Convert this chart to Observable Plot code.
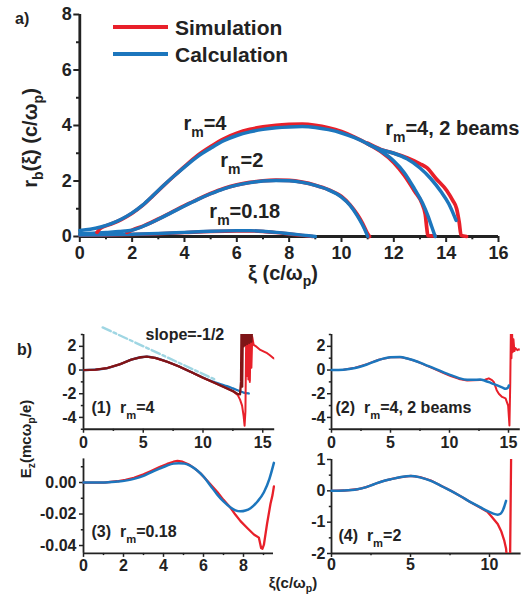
<!DOCTYPE html>
<html><head><meta charset="utf-8">
<script src="https://cdn.jsdelivr.net/npm/d3@7"></script>
<script src="https://cdn.jsdelivr.net/npm/@observablehq/plot@0.6"></script>
<style>
body{margin:0;background:#fff;}
#fig{position:relative;width:530px;height:595px;font-family:"Liberation Sans",Arial,Helvetica,sans-serif;font-weight:bold;color:#222;overflow:hidden;}
#fig svg{position:absolute;overflow:visible;}
#fig svg text{white-space:pre;}
.lab{position:absolute;white-space:nowrap;line-height:1;}
.lab sub{font-size:70%;vertical-align:-0.4em;line-height:0;}
.sw{position:absolute;height:3.5px;}
</style></head><body><div id="fig"></div>
<script>
const FONT='"Liberation Sans", Arial, Helvetica, sans-serif';
const RED="#e8202a", BLUE="#1c76bd", DARKRED="#7e1517", LIGHTBLUE="#9fd6e3";

// ---------- Panel a: r_b(xi) ----------
const aXTicks=[0,2,4,6,8,10,12,14,16], aXMinor=[1,3,5,7,9,11,13,15];
const aYTicks=[0,2,4,6,8], aYMinor=[1,3,5,7];
const aCalcRm4=[[0,0.22],[0.4,0.26],[0.8,0.34],[1.2,0.46],[1.6,0.63],[2,0.85],[2.4,1.13],[2.8,1.48],[3.2,1.84],[3.6,2.18],[4,2.5],[4.5,2.88],[5,3.18],[5.5,3.45],[6,3.64],[6.5,3.77],[7,3.86],[7.5,3.92],[8,3.95],[8.5,3.96],[9,3.93],[9.5,3.85],[10,3.73],[10.5,3.56],[11,3.34],[11.5,3.08],[12,2.72],[12.4,2.3],[12.8,1.7],[13.1,1.2],[13.3,0.75],[13.45,0.35],[13.58,0]];
const aSimRm4=[[0.66,0.15],[0.8,0.3],[1.2,0.45],[1.6,0.62],[2,0.84],[2.4,1.12],[2.8,1.47],[3.2,1.83],[3.6,2.18],[4,2.52],[4.5,2.92],[5,3.24],[5.5,3.52],[6,3.72],[6.5,3.86],[7,3.95],[7.5,4.01],[8,4.04],[8.5,4.05],[9,4.01],[9.5,3.92],[10,3.78],[10.5,3.58],[11,3.34],[11.5,3.06],[12,2.66],[12.4,2.2],[12.8,1.62],[13.07,1.2],[13.2,0.8],[13.26,0.3],[13.3,0.03],[13.58,0.02]];
const aCalc2b=[[11,3.34],[11.5,3.13],[12,3.0],[12.5,2.8],[13,2.47],[13.4,2.1],[13.8,1.62],[14.1,1.18],[14.38,0.58]];
const aSim2b=[[11,3.36],[11.5,3.14],[12,3.0],[12.5,2.84],[13,2.62],[13.26,2.48],[13.6,2.1],[14.02,1.66],[14.25,1.3],[14.4,1.0],[14.5,0.5],[14.57,0.04],[14.78,0]];
const aCalcRm2=[[0,0.1],[0.5,0.12],[1,0.15],[1.5,0.18],[2,0.23],[2.5,0.4],[3,0.62],[3.5,0.86],[4,1.1],[4.5,1.33],[5,1.54],[5.5,1.72],[6,1.85],[6.5,1.94],[7,2.0],[7.5,2.02],[8,2.01],[8.5,1.95],[9,1.84],[9.5,1.68],[10,1.42],[10.33,1.12],[10.6,0.75],[10.8,0.42],[10.95,0.12],[11.0,0]];
const aSimRm2=[[1.8,0.15],[2,0.23],[2.5,0.41],[3,0.63],[3.5,0.87],[4,1.11],[4.5,1.34],[5,1.55],[5.5,1.73],[6,1.86],[6.5,1.95],[7,2.01],[7.5,2.03],[8,2.02],[8.5,1.96],[9,1.85],[9.5,1.69],[10,1.44],[10.33,1.14],[10.6,0.8],[10.8,0.48],[10.97,0.15],[11.07,0]];
const aCalcRm018=[[0,0.05],[1,0.06],[2,0.08],[3,0.11],[4,0.15],[5,0.19],[6,0.21],[6.5,0.21],[7,0.19],[7.5,0.15],[8,0.1],[8.5,0.05],[9,0]];
const aSimRm018=[[0,0.04],[1,0.05],[2,0.07],[3,0.1],[4,0.14],[5,0.18],[6,0.2],[6.5,0.2],[7,0.18],[7.5,0.14],[8,0.09],[8.5,0.04],[8.9,0]];

// ---------- Panel b(1): r_m=4 ----------
const b1XTicks=[0,5,10,15], b1XMinor=[2.5,7.5,12.5];
const b1YTicks=[-4,-2,0,2], b1YMinor=[-5,-3,-1,1,3];
const b1Slope=[[1.6,3.6],[11,-0.8]];
const b1Calc=[[0,0],[1,0.03],[2,0.17],[3,0.47],[4,0.88],[4.8,1.08],[5.3,1.13],[6,1.02],[7,0.7],[8,0.3],[9,-0.17],[10,-0.63],[10.5,-0.84],[11,-1.03],[11.5,-1.2],[12,-1.36],[12.5,-1.55],[13,-1.75],[13.4,-1.9],[13.83,-1.98]];
const b1SimB=[[0,0],[1,0.03],[2,0.17],[3,0.47],[4,0.88],[4.8,1.08],[5.3,1.13],[6,1.02],[7,0.7],[8,0.3],[9,-0.17],[10,-0.65],[11,-1.1],[12,-1.55],[12.5,-1.78],[12.9,-2.1],[13.1,-2.5],[13.27,-3.0],[13.4,-3.9],[13.48,-4.7],[13.55,-3.5],[13.62,3.3],[13.68,-0.5],[13.74,3.3],[13.8,-0.8],[13.86,2.6],[13.92,-1.0],[13.98,3.0],[14.05,0.2],[14.12,2.8],[14.24,2.13],[14.5,1.95],[14.8,1.7],[15.1,1.55],[15.37,1.42],[15.6,1.25],[15.9,1.0],[16,0.95]];
const b1SimA=[[0,0],[1,0.03],[2,0.17],[3,0.47],[4,0.88],[4.8,1.08],[5.3,1.13],[6,1.02],[7,0.7],[8,0.3],[9,-0.17],[10,-0.65],[11,-1.1],[12,-1.55],[12.5,-1.78],[12.9,-2.02],[13.1,-2.05],[13.18,-1.0],[13.22,3.3],[13.28,-1.4],[13.33,3.3],[13.4,2.0],[13.45,3.3],[13.52,2.1],[13.6,3.3],[13.7,2.2],[13.78,3.3],[13.88,2.3],[13.95,3.3],[14.05,2.4],[14.1,3.3]];

// ---------- Panel b(2): r_m=4, 2 beams ----------
const b2XTicks=[0,5,10,15], b2XMinor=[2.5,7.5,12.5];
const b2YTicks=[-4,-2,0,2], b2YMinor=[-5,-3,-1,1,3];
const b2Calc=[[0,0],[1,0.03],[2,0.17],[3,0.47],[4,0.85],[5,1.08],[5.8,1.1],[6.5,0.95],[7.3,0.7],[8,0.42],[8.7,0.14],[9.5,-0.2],[10.1,-0.43],[10.8,-0.68],[11.5,-0.82],[12,-0.83],[12.6,-0.8],[13,-0.9],[13.5,-1.08],[14,-1.28],[14.5,-1.48],[14.75,-1.58],[14.95,-1.5],[15.03,-1.3]];
const b2Sim=[[0,0],[1,0.03],[2,0.2],[3,0.5],[4,0.87],[5,1.08],[5.8,1.1],[6.5,0.95],[7.3,0.7],[8,0.4],[8.7,0.1],[9.5,-0.25],[10.1,-0.5],[10.8,-0.75],[11.5,-0.88],[12,-0.86],[12.6,-0.85],[13,-0.82],[13.33,-0.7],[13.6,-0.85],[13.75,-1.0],[14.0,-1.7],[14.18,-2.0],[14.46,-2.27],[14.75,-2.4],[14.97,-3.0],[15.08,-4.68],[15.15,-1.0],[15.2,3.3],[15.25,1.0],[15.3,3.3],[15.35,1.5],[15.42,2.6],[15.5,1.6],[15.59,1.85],[15.75,1.68],[15.87,1.75],[16,1.7]];

// ---------- Panel b(3): r_m=0.18 ----------
const b3XTicks=[0,2,4,6,8], b3XMinor=[1,3,5,7,9];
const b3YTicks=[-0.04,-0.02,0], b3YMinor=[-0.03,-0.01,0.01];
const b3Calc=[[0,0],[1,0],[1.68,0.0006],[2.1,0.0012],[2.52,0.0023],[3,0.0042],[3.35,0.0063],[3.8,0.0088],[4.18,0.0108],[4.5,0.012],[4.77,0.0123],[5.05,0.012],[5.35,0.0106],[5.7,0.0075],[6.02,0.0035],[6.35,-0.002],[6.68,-0.0075],[7,-0.012],[7.35,-0.0158],[7.6,-0.0177],[7.85,-0.0183],[8.1,-0.0178],[8.35,-0.0163],[8.7,-0.012],[9.02,-0.0062],[9.3,0.0025],[9.52,0.0125]];
const b3Sim=[[0,0],[1,0],[1.68,0.0008],[2.1,0.0017],[2.52,0.003],[3,0.0052],[3.35,0.0072],[3.8,0.0098],[4.18,0.0118],[4.5,0.0132],[4.7,0.0137],[4.95,0.0132],[5.3,0.0112],[5.6,0.0085],[5.85,0.0058],[6.2,0.001],[6.68,-0.0058],[7,-0.011],[7.35,-0.016],[7.6,-0.0205],[7.85,-0.0245],[8.2,-0.029],[8.52,-0.033],[8.77,-0.035],[8.83,-0.0385],[8.88,-0.0415],[8.95,-0.042],[9.02,-0.0395],[9.18,-0.026],[9.35,-0.0135],[9.45,-0.008],[9.52,-0.0025]];

// ---------- Panel b(4): r_m=2 ----------
const b4XTicks=[0,5,10], b4XMinor=[2.5,7.5];
const b4YTicks=[-2,-1,0,1], b4YMinor=[-1.5,-0.5,0.5];
const b4Calc=[[0,0],[0.8,0.01],[1.63,0.05],[2.2,0.12],[2.69,0.21],[3.2,0.3],[3.75,0.37],[4.4,0.44],[5.02,0.47],[5.6,0.43],[6.29,0.32],[6.9,0.17],[7.56,0],[8.2,-0.18],[8.83,-0.37],[9.4,-0.52],[9.89,-0.65],[10.2,-0.72],[10.52,-0.76],[10.7,-0.73],[10.84,-0.63],[10.95,-0.48],[11.05,-0.32]];
const b4Sim=[[0,0],[0.8,0.01],[1.63,0.05],[2.2,0.12],[2.69,0.21],[3.2,0.3],[3.75,0.37],[4.4,0.44],[5.02,0.48],[5.6,0.44],[6.29,0.33],[6.9,0.17],[7.56,0],[8.2,-0.18],[8.83,-0.37],[9.4,-0.53],[9.89,-0.68],[10.1,-0.8],[10.52,-1.06],[10.75,-1.3],[10.94,-1.6],[11.05,-1.85],[11.12,-2.3],[11.3,-2.3],[11.37,1.2]];

// ---------- helpers ----------
const fig=document.getElementById("fig");
const rows=a=>a.map(([x,y])=>({x,y}));
const intFmt=d=>String(d);
function axes(xt,xm,yt,ym,o){
  return [
    Plot.axisX({ticks:xt,tickSize:o.tl,tickPadding:o.px,strokeWidth:o.sw,label:null,tickFormat:o.fx||intFmt}),
    Plot.axisX({ticks:xm,tickSize:o.tl*0.55,strokeWidth:o.sw,label:null,tickFormat:()=>""}),
    Plot.axisY({ticks:yt,tickSize:o.tl,tickPadding:o.py,strokeWidth:o.sw,label:null,tickFormat:o.fy||intFmt}),
    Plot.axisY({ticks:ym,tickSize:o.tl*0.55,strokeWidth:o.sw,label:null,tickFormat:()=>""}),
    Plot.ruleY([o.y0],{strokeWidth:o.aw}),
    Plot.ruleX([o.x0],{strokeWidth:o.aw})
  ];
}
function ln(a,stroke,w,extra){return Plot.line(rows(a),{x:"x",y:"y",stroke,strokeWidth:w,curve:"monotone-x",...(extra||{})});}
function subify(root){
  root.querySelectorAll("text").forEach(t=>{
    if(t.children.length) return;
    const s=t.textContent; if(!s.includes("_{")) return;
    t.textContent="";
    const parts=s.split(/_\{([^}]*)\}/);
    let pending=false;
    parts.forEach((p,i)=>{
      if(!p) return;
      const ts=document.createElementNS("http://www.w3.org/2000/svg","tspan");
      ts.textContent=p;
      if(i%2===1){ts.setAttribute("font-size","70%");ts.setAttribute("dy","0.5em");pending=true;}
      else if(pending){ts.setAttribute("dy","-0.35em");pending=false;}
      t.appendChild(ts);
    });
  });
}
function place(svg,left,top){svg.style.left=left+"px";svg.style.top=top+"px";fig.appendChild(svg);subify(svg);}
function lab(html,x,cy,size,opt={}){
  const d=document.createElement("div");d.className="lab";d.innerHTML=html;
  d.style.fontSize=size+"px";
  if(opt.rot){d.style.left=x+"px";d.style.top=cy+"px";d.style.transform="translate(-50%,-50%) rotate(-90deg)";}
  else{d.style.left=x+"px";d.style.top=(cy-0.49*size)+"px";if(opt.mid)d.style.transform="translateX(-50%)";}
  fig.appendChild(d);
}
const baseStyle=(fs)=>({background:"transparent",fontFamily:FONT,fontSize:fs+"px",fontWeight:"bold",color:"#222",overflow:"visible"});

// ---------- Panel a ----------
const pa=Plot.plot({
  width:530,height:290,marginLeft:79.3,marginRight:32,marginTop:14,marginBottom:54,
  x:{domain:[0,16]},y:{domain:[0,8]},style:baseStyle(18),
  marks:[
    ...axes(aXTicks,aXMinor,aYTicks,aYMinor,{tl:6,px:4,py:2,sw:2,aw:2.8,x0:0,y0:0}),
    ln(aSimRm018,RED,3.4), ln(aCalcRm018,BLUE,3.4),
    ln(aSimRm2,RED,3.7), ln(aCalcRm2,BLUE,3.4),
    ln(aSimRm4,RED,3.7), ln(aSim2b,RED,3.7),
    ln(aCalcRm4,BLUE,3.5), ln(aCalc2b,BLUE,3.5),
    Plot.text([{x:3.96,y:4.07,t:"r_{m}=4"},{x:5.37,y:2.74,t:"r_{m}=2"},{x:4.95,y:0.9,t:"r_{m}=0.18"},{x:11.67,y:3.89,t:"r_{m}=4, 2 beams"}],
      {x:"x",y:"y",text:"t",textAnchor:"start",fontSize:20,fontWeight:"bold",fill:"#222"})
  ]
});
place(pa,0,0);

// legend
[["Simulation",RED,27],["Calculation",BLUE,54]].forEach(([t,c,cy])=>{
  const s=document.createElement("div");s.className="sw";s.style.left="113px";s.style.width="55px";s.style.top=(cy-1.75)+"px";s.style.background=c;fig.appendChild(s);
  lab(t,175,cy,21);
});

// ---------- Panel b(1) ----------
const p1=Plot.plot({
  width:290,height:160,marginLeft:83,marginRight:15.8,marginTop:34,marginBottom:31.25,
  x:{domain:[0,16]},y:{domain:[-5,3]},style:baseStyle(16),
  marks:[
    ...axes(b1XTicks,b1XMinor,b1YTicks,b1YMinor,{tl:4,px:3.5,py:3,sw:1.5,aw:1.8,x0:0,y0:-5}),
    ln(b1Slope,LIGHTBLUE,2.4,{curve:"linear",strokeDasharray:"9,3,3,3"}),
    ln(b1Calc,BLUE,2.3),
    ln(b1SimB,RED,2,{curve:"linear",clip:true}),
    ln(b1SimA,DARKRED,2.3,{curve:"linear",clip:true}),
    Plot.text([{x:0.67,y:-3.23,t:"(1)  r_{m}=4"},{x:5.19,y:2.95,t:"slope=-1/2"}],
      {x:"x",y:"y",text:"t",textAnchor:"start",fontSize:16,fontWeight:"bold",fill:"#222"})
  ]
});
place(p1,0,300);

// ---------- Panel b(2) ----------
const p2=Plot.plot({
  width:240,height:160,marginLeft:41,marginRight:10.2,marginTop:34,marginBottom:31.25,
  x:{domain:[0,16]},y:{domain:[-5,3]},style:baseStyle(16),
  marks:[
    ...axes(b2XTicks,b2XMinor,b2YTicks,b2YMinor,{tl:4,px:3.5,py:2,sw:1.5,aw:1.8,x0:0,y0:-5}),
    ln(b2Sim,RED,2,{curve:"linear",clip:true}),
    ln(b2Calc,BLUE,2.5),
    Plot.text([{x:0.34,y:-3.23,t:"(2)  r_{m}=4, 2 beams"}],
      {x:"x",y:"y",text:"t",textAnchor:"start",fontSize:16,fontWeight:"bold",fill:"#222"})
  ]
});
place(p2,290,300);

// ---------- Panel b(3) ----------
const p3=Plot.plot({
  width:290,height:155,marginLeft:83,marginRight:17,marginTop:18.4,marginBottom:42.1,
  x:{domain:[0,9.5]},y:{domain:[-0.045,0.015]},style:baseStyle(16),
  marks:[
    ...axes(b3XTicks,b3XMinor,b3YTicks,b3YMinor,{tl:4,px:2.6,py:3,sw:1.5,aw:1.8,x0:0,y0:-0.045,fy:d=>d.toFixed(2)}),
    ln(b3Sim,RED,2.3,{curve:"linear"}),
    ln(b3Calc,BLUE,2.5),
    Plot.text([{x:0.4,y:-0.0316,t:"(3)  r_{m}=0.18"}],
      {x:"x",y:"y",text:"t",textAnchor:"start",fontSize:16,fontWeight:"bold",fill:"#222"})
  ]
});
place(p3,0,440);

// ---------- Panel b(4) ----------
const p4=Plot.plot({
  width:240,height:155,marginLeft:41,marginRight:9.4,marginTop:19,marginBottom:42,
  x:{domain:[0,12]},y:{domain:[-2,1]},style:baseStyle(16),
  marks:[
    ...axes(b4XTicks,b4XMinor,b4YTicks,b4YMinor,{tl:4,px:1.5,py:2,sw:1.5,aw:1.8,x0:0,y0:-2}),
    ln(b4Sim,RED,2.3,{curve:"linear",clip:true}),
    ln(b4Calc,BLUE,2.5),
    Plot.text([{x:0.44,y:-1.45,t:"(4)  r_{m}=2"}],
      {x:"x",y:"y",text:"t",textAnchor:"start",fontSize:16,fontWeight:"bold",fill:"#222"})
  ]
});
place(p4,290,440);

// ---------- labels ----------
lab("a)",15,19,16);
lab("b)",17,350,16);
lab("r<sub>b</sub>(ξ) (c/ω<sub>p</sub>)",30,138,20,{rot:true});
lab("ξ (c/ω<sub>p</sub>)",283,273,20,{mid:true});
lab("E<sub>z</sub>(mcω<sub>p</sub>/e)",25,439,15,{rot:true});
lab("ξ(c/ω<sub>p</sub>)",293,582,15,{mid:true});
</script></body></html>
